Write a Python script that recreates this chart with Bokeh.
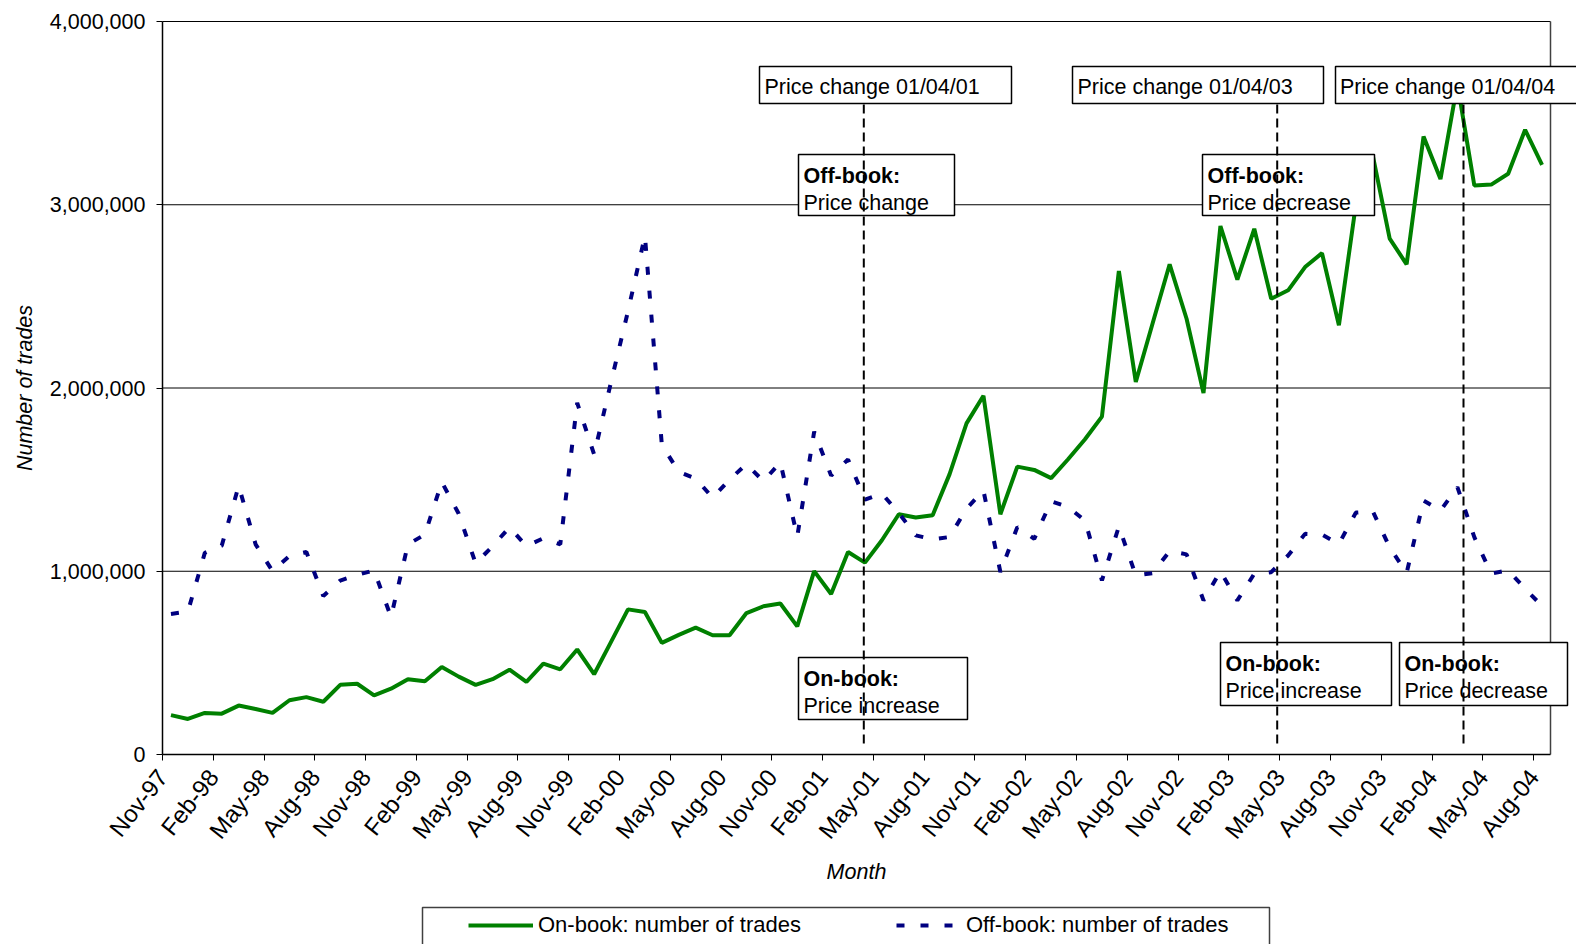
import math
import numpy as np
from bokeh.plotting import figure
from bokeh.models import (ColumnDataSource, Legend, LegendItem, BoxAnnotation, Label,
                          FixedTicker, NumeralTickFormatter, Range1d)
from bokeh.embed import file_html
from bokeh.resources import INLINE

# ---------------- data (monthly, Nov-97 .. Aug-04) ----------------
on_book = [215000, 194000, 227000, 223000, 267000, 248000, 227000, 296000, 313000, 288000,
           380000, 386000, 323000, 359000, 411000, 400000, 478000, 425000, 380000, 411000,
           463000, 396000, 496000, 465000, 573000, 438000, 615000, 792000, 778000, 609000,
           653000, 692000, 651000, 651000, 772000, 809000, 824000, 699000, 1001000, 876000,
           1105000, 1047000, 1169000, 1311000, 1293000, 1306000, 1530000, 1807000, 1958000, 1311000,
           1571000, 1553000, 1508000, 1611000, 1720000, 1844000, 2638000, 2033000, 2355000, 2675000,
           2378000, 1973000, 2884000, 2591000, 2869000, 2487000, 2533000, 2660000, 2736000, 2342000,
           3000000, 3269000, 2815000, 2675000, 3373000, 3140000, 3660000, 3105000, 3110000, 3169000,
           3409000, 3218000]

off_book = [767000, 780000, 1100000, 1140000, 1466000, 1147000, 1001000, 1084000, 1105000, 865000,
            949000, 980000, 1005000, 750000, 1147000, 1200000, 1487000, 1314000, 1043000, 1137000,
            1240000, 1137000, 1180000, 1147000, 1919000, 1637000, 2033000, 2419000, 2830000, 1689000,
            1543000, 1506000, 1401000, 1500000, 1585000, 1491000, 1595000, 1189000, 1762000, 1522000,
            1610000, 1391000, 1424000, 1318000, 1196000, 1174000, 1187000, 1342000, 1440000, 996000,
            1241000, 1177000, 1382000, 1350000, 1277000, 950000, 1244000, 977000, 990000, 1110000,
            1092000, 841000, 1000000, 841000, 986000, 995000, 1086000, 1204000, 1200000, 1149000,
            1320000, 1327000, 1130000, 990000, 1386000, 1331000, 1459000, 1186000, 987000, 1005000,
            905000, 810000]

tick_labels = ["Nov-97", "Feb-98", "May-98", "Aug-98", "Nov-98", "Feb-99", "May-99", "Aug-99",
               "Nov-99", "Feb-00", "May-00", "Aug-00", "Nov-00", "Feb-01", "May-01", "Aug-01",
               "Nov-01", "Feb-02", "May-02", "Aug-02", "Nov-02", "Feb-03", "May-03", "Aug-03",
               "Nov-03", "Feb-04", "May-04", "Aug-04"]

y_ticks = [0, 1000000, 2000000, 3000000, 4000000]

event_titles = ["Price change 01/04/01", "Price change 01/04/03", "Price change 01/04/04"]
offbook_notes = [("Off-book:", "Price change"), ("Off-book:", "Price decrease")]
onbook_notes = [("On-book:", "Price increase"), ("On-book:", "Price increase"),
                ("On-book:", "Price decrease")]

series_names = ["On-book: number of trades", "Off-book: number of trades"]

# ---------------- layout helpers (reference pixel -> data) ----------------
N = len(on_book)
YMAX = 4000000
W, H = 1576, 944
FL, FR, FT, FB = 162.0, 1550.0, 21.0, 754.0   # plot area in pixels


def dx(px):
    return (px - FL) / (FR - FL) * N


def dy(py):
    return (FB - py) / (FB - FT) * YMAX


FONT = "Liberation Sans"
FS = "21.5px"

# the drawing frame covers the whole canvas (axes are placed at fixed locations), so the
# legend, the tick labels and the boxes that overhang the plot area are not clipped
p = figure(width=W, height=H, output_backend="svg", toolbar_location=None,
           x_range=Range1d(dx(0), dx(W)), y_range=Range1d(dy(H), dy(0)),
           min_border_left=0, min_border_right=0, min_border_top=0, min_border_bottom=0)
p.background_fill_color = "white"
p.border_fill_color = "white"
p.outline_line_color = None
p.xgrid.visible = False
p.ygrid.visible = False

# grid lines and right border of the plot area
gsrc = ColumnDataSource(dict(y=y_ticks[1:], x0=[0] * 4, x1=[N] * 4))
p.segment(x0="x0", y0="y", x1="x1", y1="y", source=gsrc, line_color="black",
          line_width=1, level="underlay")
p.segment(x0=[N], y0=[0], x1=[N], y1=[YMAX], line_color="#404040", line_width=1.5,
          level="underlay")

src = ColumnDataSource(dict(x=np.arange(N) + 0.5, on=on_book, off=off_book))
r_on = p.line("x", "on", source=src, line_color="#008000", line_width=4)
r_off = p.line("x", "off", source=src, line_color="#000080", line_width=4, line_dash="8 16")

# axes
p.xaxis.fixed_location = 0
p.yaxis.fixed_location = 0
p.xaxis.bounds = (0, N)
p.yaxis.bounds = (0, YMAX)
p.xaxis.ticker = FixedTicker(ticks=list(range(0, N, 3)))
p.xaxis.major_label_overrides = {i * 3: lab for i, lab in enumerate(tick_labels)}
p.xaxis.major_label_orientation = 0.9
p.yaxis.ticker = FixedTicker(ticks=y_ticks)
p.yaxis.formatter = NumeralTickFormatter(format="0,0")
for ax in (p.xaxis[0], p.yaxis[0]):
    ax.axis_line_color = "black"
    ax.axis_line_width = 1.5
    ax.major_tick_line_color = "black"
    ax.major_tick_in = 0
    ax.major_tick_out = 6
    ax.minor_tick_line_color = None
    ax.major_label_text_font = FONT
    ax.major_label_text_font_size = FS
    ax.major_label_text_color = "black"
    ax.axis_label_text_font = FONT
    ax.axis_label_text_font_size = FS
    ax.axis_label_text_font_style = "italic"
    ax.axis_label_text_color = "black"
p.xaxis.major_label_text_font_size = "24px"
p.xaxis.axis_label = "Month"
p.yaxis.axis_label = "Number of trades"
p.yaxis.major_label_standoff = 11
p.yaxis.axis_label_standoff = 10
p.xaxis.major_label_standoff = 12
p.xaxis.axis_label_standoff = 5

# ---------------- annotation boxes ----------------
def box(l, r, t, b, color="black"):
    p.add_layout(BoxAnnotation(left=dx(l), right=dx(r), top=dy(t), bottom=dy(b),
                               fill_color="white", fill_alpha=1.0,
                               line_color=color, line_width=1.5, line_alpha=1.0))


def text(px, py, s, bold=False):
    p.add_layout(Label(x=dx(px), y=dy(py), text=s, text_font=FONT, text_font_size=FS,
                       text_font_style="bold" if bold else "normal", text_color="black",
                       text_align="left", text_baseline="alphabetic"))


# top event boxes
top_boxes = [(759, 1011, 764), (1072, 1323, 1077), (1335, 1610, 1339.5)]
for (l, r, tx), title in zip(top_boxes, event_titles):
    box(l, r, 66, 103)
    text(tx, 86.7, title)

off_boxes = [(798, 954, 154, 215, 803), (1202, 1374, 154, 215, 1207)]
for (l, r, t, b, tx), (h, s) in zip(off_boxes, offbook_notes):
    box(l, r, t, b)
    text(tx, t + 21, h, bold=True)
    text(tx, t + 48.5, s)

on_boxes = [(798, 967, 657, 719, 803), (1220, 1391, 642, 705, 1225),
            (1399, 1567, 642, 705, 1404)]
for (l, r, t, b, tx), (h, s) in zip(on_boxes, onbook_notes):
    box(l, r, t, b)
    text(tx, t + 21, h, bold=True)
    text(tx, t + 48.5, s)

# dashed vertical event lines (drawn above the boxes)
ev_px = [863.3, 1276.7, 1463.0]
ev_src = ColumnDataSource(dict(x=[dx(v) for v in ev_px], y0=[dy(743)] * 3, y1=[dy(103)] * 3))
p.segment(x0="x", y0="y0", x1="x", y1="y1", source=ev_src, line_color="black",
          line_width=2, line_dash="9 5", level="overlay")

# ---------------- legend ----------------
box(422, 1269, 907, 970, color="#404040")
legend = Legend(items=[LegendItem(label=series_names[0], renderers=[r_on]),
                       LegendItem(label=series_names[1], renderers=[r_off])],
                orientation="horizontal", location=(468, H - 938),
                border_line_alpha=0, background_fill_alpha=0, padding=0, margin=0,
                spacing=95, glyph_width=65, glyph_height=26, label_height=26,
                label_standoff=5, label_text_font=FONT, label_text_font_size="22px",
                label_text_color="black")
p.add_layout(legend)

open("out.html", "w").write(file_html(p, INLINE))
